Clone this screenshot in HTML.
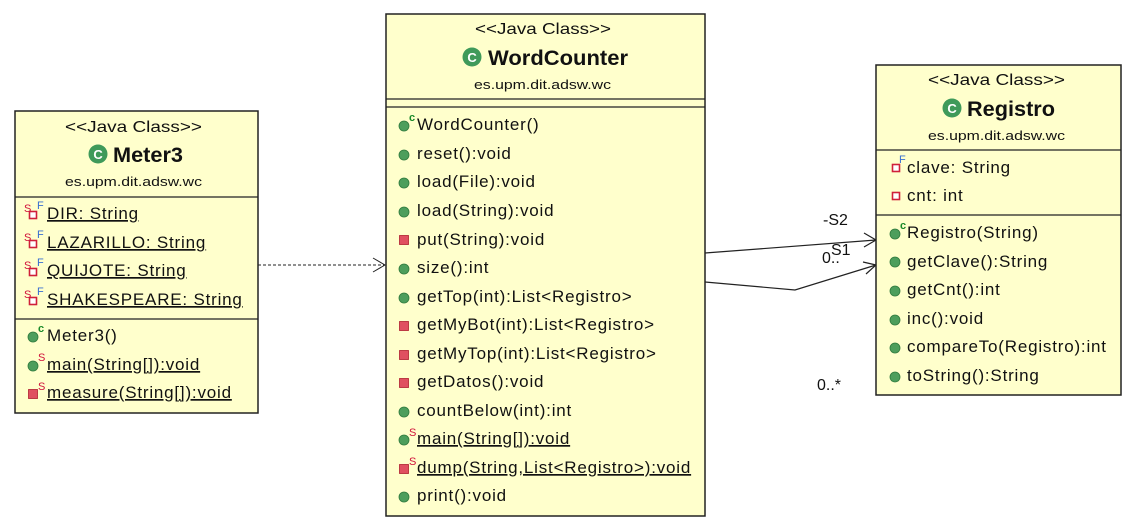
<!DOCTYPE html>
<html><head><meta charset="utf-8"><style>
body{margin:0;background:#fff}
svg{display:block;font-family:"Liberation Sans",Arial,sans-serif}
.m{font-size:17px;letter-spacing:0.8px;fill:#111}
.st{font-size:16px;fill:#111}
.nm{font-size:21px;font-weight:bold;fill:#111}
.pk{font-size:13px;fill:#111}
.s{font-size:11px;fill:#d0103a}
.f{font-size:11px;fill:#3a6fd0}
.c{font-size:11px;fill:#1a8a2a;font-weight:bold}
.u{text-decoration:underline}
</style></head><body>
<svg width="1129" height="530" viewBox="0 0 1129 530">
<defs>
<g id="pub"><circle cy="-2" r="5" fill="#4d9e5c" stroke="#2f7a3d" stroke-width="0.8"/></g>
<g id="priv"><rect x="-4.5" y="-6.5" width="9" height="9" fill="#e05060" stroke="#b02030" stroke-width="0.8"/></g>
<g id="privf"><rect x="-3.5" y="-5.5" width="7" height="7" fill="#fff" stroke="#d0203a" stroke-width="1.6"/></g>
<g id="cls"><circle r="9.5" fill="#3f9a5a"/><text x="0" y="5" font-size="13" font-weight="bold" fill="#fff" text-anchor="middle">C</text></g>
</defs>

<!-- connectors -->
<line x1="258" y1="265" x2="384" y2="265" stroke="#222" stroke-dasharray="3,2" stroke-width="1"/>
<polyline points="373,258 385,265 373,272" fill="none" stroke="#222"/>
<polyline points="705,253 876,240" fill="none" stroke="#222" stroke-width="1.2"/>
<polyline points="864,233 876,240 864,247" fill="none" stroke="#222" stroke-width="1.2"/>
<polyline points="705,282 795,290 876,265" fill="none" stroke="#222" stroke-width="1.2"/>
<polyline points="863,262 876,265 866,274" fill="none" stroke="#222" stroke-width="1.2"/>
<text x="823" y="225" font-size="16" fill="#111">-S2</text>
<text x="822" y="263" font-size="16" fill="#111">0..</text>
<text x="831" y="255" font-size="16" fill="#111">S1</text>
<text x="817" y="390" font-size="16" fill="#111">0..*</text>

<!-- Meter3 -->
<rect x="15" y="111" width="243" height="302" fill="#ffffcc" stroke="#222" stroke-width="1.5"/>
<line x1="15" y1="197" x2="258" y2="197" stroke="#222" stroke-width="1.2"/>
<line x1="15" y1="319" x2="258" y2="319" stroke="#222" stroke-width="1.2"/>
<text class="st" x="65" y="132" textLength="137" lengthAdjust="spacingAndGlyphs">&lt;&lt;Java Class&gt;&gt;</text>
<use href="#cls" x="98" y="154"/>
<text class="nm" x="113" y="162" textLength="70" lengthAdjust="spacingAndGlyphs">Meter3</text>
<text class="pk" x="65" y="186" textLength="137" lengthAdjust="spacingAndGlyphs">es.upm.dit.adsw.wc</text>
<use href="#privf" x="33" y="217"/><text class="s" x="24" y="212">S</text><text class="f" x="37" y="209">F</text><text class="m u" x="47" y="219">DIR: String</text>
<use href="#privf" x="33" y="246"/><text class="s" x="24" y="241">S</text><text class="f" x="37" y="238">F</text><text class="m u" x="47" y="248">LAZARILLO: String</text>
<use href="#privf" x="33" y="274"/><text class="s" x="24" y="269">S</text><text class="f" x="37" y="266">F</text><text class="m u" x="47" y="276">QUIJOTE: String</text>
<use href="#privf" x="33" y="303"/><text class="s" x="24" y="298">S</text><text class="f" x="37" y="295">F</text><text class="m u" x="47" y="305">SHAKESPEARE: String</text>
<use href="#pub" x="33" y="339"/><text class="c" x="38" y="332">c</text><text class="m" x="47" y="341">Meter3()</text>
<use href="#pub" x="33" y="368"/><text class="s" x="38" y="361">S</text><text class="m u" x="47" y="370">main(String[]):void</text>
<use href="#priv" x="33" y="396"/><text class="s" x="38" y="390">S</text><text class="m u" x="47" y="398">measure(String[]):void</text>

<!-- WordCounter -->
<rect x="386" y="14" width="319" height="502" fill="#ffffcc" stroke="#222" stroke-width="1.5"/>
<line x1="386" y1="99" x2="705" y2="99" stroke="#222" stroke-width="1.2"/>
<line x1="386" y1="107" x2="705" y2="107" stroke="#222" stroke-width="1.2"/>
<text class="st" x="475" y="34" textLength="136" lengthAdjust="spacingAndGlyphs">&lt;&lt;Java Class&gt;&gt;</text>
<use href="#cls" x="472" y="57"/>
<text class="nm" x="488" y="65" textLength="140" lengthAdjust="spacingAndGlyphs">WordCounter</text>
<text class="pk" x="474" y="89" textLength="137" lengthAdjust="spacingAndGlyphs">es.upm.dit.adsw.wc</text>
<use href="#pub" x="404" y="128"/><text class="c" x="409" y="121">c</text><text class="m" x="417" y="130">WordCounter()</text>
<use href="#pub" x="404" y="157"/><text class="m" x="417" y="159">reset():void</text>
<use href="#pub" x="404" y="185"/><text class="m" x="417" y="187">load(File):void</text>
<use href="#pub" x="404" y="214"/><text class="m" x="417" y="216">load(String):void</text>
<use href="#priv" x="404" y="242"/><text class="m" x="417" y="245">put(String):void</text>
<use href="#pub" x="404" y="271"/><text class="m" x="417" y="273">size():int</text>
<use href="#pub" x="404" y="300"/><text class="m" x="417" y="302">getTop(int):List&lt;Registro&gt;</text>
<use href="#priv" x="404" y="328"/><text class="m" x="417" y="330">getMyBot(int):List&lt;Registro&gt;</text>
<use href="#priv" x="404" y="357"/><text class="m" x="417" y="359">getMyTop(int):List&lt;Registro&gt;</text>
<use href="#priv" x="404" y="385"/><text class="m" x="417" y="387">getDatos():void</text>
<use href="#pub" x="404" y="414"/><text class="m" x="417" y="416">countBelow(int):int</text>
<use href="#pub" x="404" y="442"/><text class="s" x="409" y="436">S</text><text class="m u" x="417" y="444">main(String[]):void</text>
<use href="#priv" x="404" y="471"/><text class="s" x="409" y="465">S</text><text class="m u" x="417" y="473">dump(String,List&lt;Registro&gt;):void</text>
<use href="#pub" x="404" y="499"/><text class="m" x="417" y="501">print():void</text>

<!-- Registro -->
<rect x="876" y="65" width="245" height="330" fill="#ffffcc" stroke="#222" stroke-width="1.5"/>
<line x1="876" y1="150" x2="1121" y2="150" stroke="#222" stroke-width="1.2"/>
<line x1="876" y1="215" x2="1121" y2="215" stroke="#222" stroke-width="1.2"/>
<text class="st" x="928" y="85" textLength="137" lengthAdjust="spacingAndGlyphs">&lt;&lt;Java Class&gt;&gt;</text>
<use href="#cls" x="952" y="108"/>
<text class="nm" x="967" y="116" textLength="88" lengthAdjust="spacingAndGlyphs">Registro</text>
<text class="pk" x="928" y="140" textLength="137" lengthAdjust="spacingAndGlyphs">es.upm.dit.adsw.wc</text>
<use href="#privf" x="896" y="170"/><text class="f" x="899" y="163">F</text><text class="m" x="907" y="173">clave: String</text>
<use href="#privf" x="896" y="198"/><text class="m" x="907" y="201">cnt: int</text>
<use href="#pub" x="895" y="236"/><text class="c" x="900" y="229">c</text><text class="m" x="907" y="238">Registro(String)</text>
<use href="#pub" x="895" y="264"/><text class="m" x="907" y="267">getClave():String</text>
<use href="#pub" x="895" y="293"/><text class="m" x="907" y="295">getCnt():int</text>
<use href="#pub" x="895" y="322"/><text class="m" x="907" y="324">inc():void</text>
<use href="#pub" x="895" y="350"/><text class="m" x="907" y="352">compareTo(Registro):int</text>
<use href="#pub" x="895" y="379"/><text class="m" x="907" y="381">toString():String</text>
</svg>
</body></html>
